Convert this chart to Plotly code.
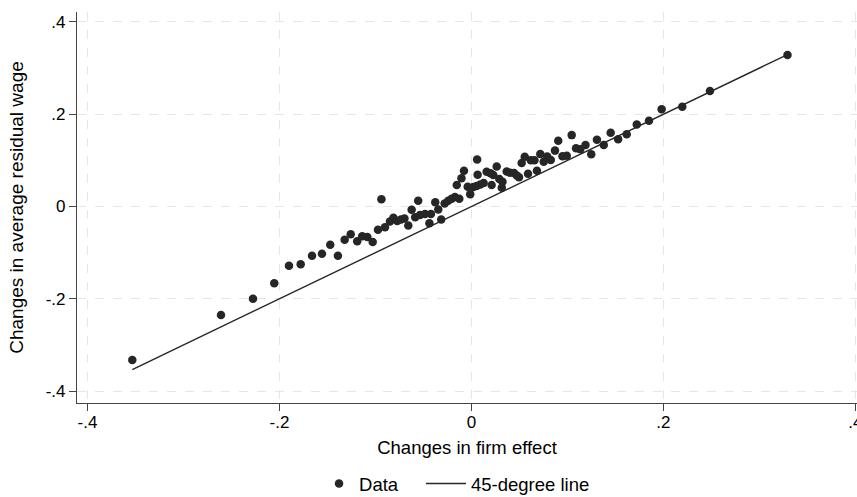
import plotly.graph_objects as go

# Binned changes: firm effect (x) vs. average residual wage (y)
firm_effect_change = [
    -0.3533, -0.2609, -0.2276, -0.2054, -0.1901, -0.1779, -0.1661, -0.1557, -0.1471, -0.1391,
    -0.1321, -0.1258, -0.1190, -0.1138, -0.1085, -0.1029, -0.0974, -0.0938, -0.0901, -0.0849,
    -0.0813, -0.0773, -0.0734, -0.0698, -0.0658, -0.0623, -0.0586, -0.0555, -0.0536, -0.0484,
    -0.0422, -0.0438, -0.0377, -0.0346, -0.0315, -0.0279, -0.0242, -0.0206, -0.0172, -0.0127,
    -0.0153, -0.0104, -0.0078, -0.0039, -0.0013, 0.0019, 0.0054, 0.0092, 0.0127, 0.0059,
    0.0064, 0.0158, 0.0198, 0.0210, 0.0227, 0.0263, 0.0290, 0.0323, 0.0316, 0.0367,
    0.0401, 0.0443, 0.0472, 0.0495, 0.0523, 0.0555, 0.0589, 0.0618, 0.0656, 0.0682,
    0.0717, 0.0753, 0.0789, 0.0826, 0.0870, 0.0904, 0.0948, 0.0993, 0.1044, 0.1089,
    0.1133, 0.1188, 0.1248, 0.1307, 0.1378, 0.1450, 0.1528, 0.1617, 0.1722, 0.1849,
    0.1981, 0.2196, 0.2484, 0.3292,
]
residual_wage_change = [
    -0.3326, -0.2351, -0.1998, -0.1664, -0.1283, -0.1252, -0.1066, -0.1023, -0.0828, -0.1066,
    -0.0719, -0.0602, -0.0754, -0.0646, -0.0661, -0.0769, -0.0503, 0.0156, -0.0451, -0.0325,
    -0.0245, -0.0314, -0.0282, -0.0260, -0.0412, -0.0072, -0.0234, 0.0126, -0.0184, -0.0163,
    -0.0163, -0.0364, 0.0093, -0.0065, -0.0282, 0.0065, 0.0124, 0.0167, 0.0206, 0.0167,
    0.0466, 0.0611, 0.0776, 0.0429, 0.0264, 0.0423, 0.0444, 0.0477, 0.0509, 0.1018,
    0.0689, 0.0754, 0.0719, 0.0466, 0.0683, 0.0867, 0.0596, 0.0537, 0.0407, 0.0758,
    0.0730, 0.0726, 0.0672, 0.0633, 0.0943, 0.1079, 0.0709, 0.1001, 0.1001, 0.0776,
    0.1138, 0.0971, 0.1083, 0.1008, 0.1211, 0.1426, 0.1088, 0.1101, 0.1547, 0.1263,
    0.1242, 0.1333, 0.1133, 0.1445, 0.1333, 0.1599, 0.1456, 0.1567, 0.1779, 0.1859,
    0.2106, 0.2163, 0.2503, 0.3283,
]

tick_vals = [-0.4, -0.2, 0, 0.2, 0.4]
tick_text = ["-.4", "-.2", "0", ".2", ".4"]

ink = "#262626"
grid = "#e6e6e6"
family = "Liberation Sans, Arial, sans-serif"
tick_font = dict(family=family, size=17, color="black")
title_font = dict(family=family, size=18.5, color="black")

# 45-degree reference line spanning the data
x_lo, x_hi = min(firm_effect_change), max(firm_effect_change)

fig = go.Figure()
fig.add_trace(go.Scatter(
    x=firm_effect_change, y=residual_wage_change, mode="markers", name="Data",
    marker=dict(color=ink, size=8.5, line=dict(width=0)), legend="legend",
))
fig.add_trace(go.Scatter(
    x=[x_lo, x_hi], y=[x_lo, x_hi], mode="lines", name="45-degree line",
    line=dict(color=ink, width=1.4), legend="legend2",
))

axis_common = dict(
    tickvals=tick_vals, ticktext=tick_text,
    showline=True, linecolor="#444444", linewidth=1.2,
    ticks="outside", ticklen=7, tickcolor="#444444", tickwidth=1,
    showgrid=True, gridcolor=grid, griddash="dash", gridwidth=1,
    zeroline=False, automargin=False, tickfont=tick_font,
)

legend_common = dict(orientation="h", y=-0.207, yanchor="middle", xanchor="left",
                     font=title_font, bgcolor="rgba(0,0,0,0)")

fig.update_layout(
    width=857, height=497,
    margin=dict(l=77, r=0, t=12, b=94, autoexpand=False),
    paper_bgcolor="white", plot_bgcolor="white",
    font=title_font,
    showlegend=True,
    legend=dict(x=0.3103, **legend_common),
    legend2=dict(x=0.441, itemwidth=40, **legend_common),
    xaxis=dict(range=[-0.4109, 0.4016], ticklabeloverflow="allow", ticklabelstandoff=-4,
               title=dict(text="Changes in firm effect", font=title_font, standoff=10),
               **axis_common),
    yaxis=dict(range=[-0.4258, 0.4215],
               title=dict(text="Changes in average residual wage",
                          font=dict(family=family, size=19, color="black"), standoff=17),
               **axis_common),
)

fig.write_html("out.html")
